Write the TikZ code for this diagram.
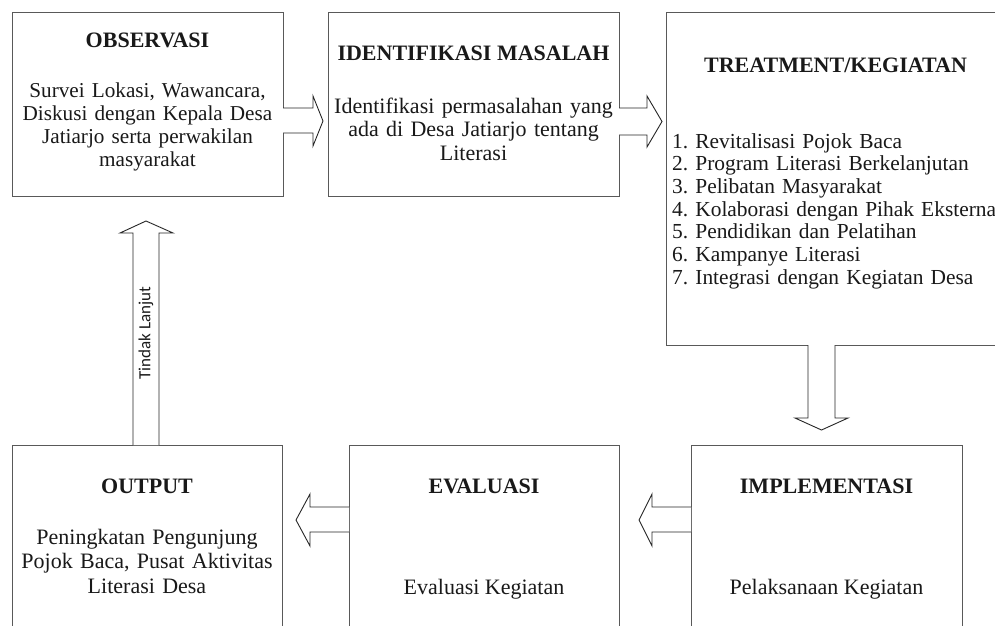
\documentclass[tikz,border=0pt]{standalone}
\usepackage{fontspec}
\setmainfont{Liberation Serif}
\newfontfamily\carlito{Carlito}
\usetikzlibrary{calc}
\frenchspacing
\begin{document}
\frenchspacing
\begin{tikzpicture}[x=1pt,y=-1pt,
  box/.style={draw=black!65, line width=1pt, inner sep=0pt, outer sep=0pt, rectangle},
  blockarrow/.style={draw=black!85, line width=0.9pt, fill=white, line join=miter},
  ttl/.style={font=\fontsize{22}{23.5}\selectfont\bfseries, text=black!90, anchor=base, inner sep=0pt},
  body/.style={font=\fontsize{22}{23.5}\selectfont, text=black!90, anchor=base, inner sep=0pt, align=center},
]
\useasboundingbox (0,0) rectangle (995,625);
\clip (0,0) rectangle (995,625);
\fill[white] (0,0) rectangle (995,625);

% boxes
\node[box, minimum width=271pt, minimum height=184pt] (obs) at (147.5,104) {};
\node[box, minimum width=291pt, minimum height=184pt] (idn) at (473.5,104) {};
\node[box, minimum width=339pt, minimum height=333pt] (trt) at (835.5,178.5) {};
\node[box, minimum width=270pt, minimum height=195pt] (out) at (147,542.5) {};
\node[box, minimum width=270pt, minimum height=195pt] (eva) at (484,542.5) {};
\node[box, minimum width=271pt, minimum height=195pt] (imp) at (826.5,542.5) {};

% texts
\node[ttl] (obst) at (147.5,47) {OBSERVASI};
\node[body, text width=268pt, font=\fontsize{21.2}{23.3}\selectfont] (obsb) at (147.5,97) {Survei Lokasi, Wawancara,\\ Diskusi dengan Kepala Desa\\ Jatiarjo serta perwakilan\\ masyarakat};
\node[ttl] (idnt) at (473.5,60) {IDENTIFIKASI MASALAH};
\node[body, text width=288pt] (idnb) at (473.5,113) {Identifikasi permasalahan yang\\ ada di Desa Jatiarjo tentang\\ Literasi};
\node[ttl] (trtt) at (835.5,72) {TREATMENT/KEGIATAN};
\node[body, align=left, text width=500pt, anchor=base west, font=\fontsize{21.4}{22.7}\selectfont] (trtb) at (672,148) {1. Revitalisasi Pojok Baca\\ 2. Program Literasi Berkelanjutan\\ 3. Pelibatan Masyarakat\\ 4. Kolaborasi dengan Pihak Eksternal\\ 5. Pendidikan dan Pelatihan\\ 6. Kampanye Literasi\\ 7. Integrasi dengan Kegiatan Desa};
\node[ttl] (outt) at (147,493) {OUTPUT};
\node[body, text width=268pt, font=\fontsize{22}{24.5}\selectfont] (outb) at (147,544) {Peningkatan Pengunjung\\ Pojok Baca, Pusat Aktivitas\\ Literasi Desa};
\node[ttl] (evat) at (484,493) {EVALUASI};
\node[body] (evab) at (484,594) {Evaluasi Kegiatan};
\node[ttl] (impt) at (826.5,493) {IMPLEMENTASI};
\node[body] (impb) at (826.5,594) {Pelaksanaan Kegiatan};

% block arrows
\draw[blockarrow] (obs.east |- 0,108) -- (313,108) -- (313,96) -- ($(idn.west |- 0,121)+(-5,0)$) -- (313,146) -- (313,133) -- (obs.east |- 0,133);
\draw[blockarrow] (idn.east |- 0,108) -- (647,108) -- (647,96) -- ($(trt.west |- 0,121.5)+(-4,0)$) -- (647,147) -- (647,135) -- (idn.east |- 0,135);
\draw[blockarrow] (trt.south -| 808,0) -- (808,418) -- (795,418) -- ($(imp.north -| 821.5,0)+(0,-15)$) -- (848,418) -- (835,418) -- (trt.south -| 835,0);
\draw[blockarrow] (imp.west |- 0,507) -- (652,507) -- (652,494) -- ($(eva.east |- 0,520)+(20,0)$) -- (652,546) -- (652,532) -- (imp.west |- 0,532);
\draw[blockarrow] (eva.west |- 0,507) -- (310,507) -- (310,494) -- ($(out.east |- 0,520)+(14,0)$) -- (310,546) -- (310,532) -- (eva.west |- 0,532);
\draw[blockarrow] (out.north -| 133,0) -- (133,233) -- (120,233) -- ($(obs.south -| 146,0)+(0,25)$) -- (173,233) -- (159,233) -- (out.north -| 159,0);
\node[rotate=90, inner sep=0pt, text=black!90, font=\carlito\fontsize{17}{20}\selectfont] (tl) at (146,333) {Tindak Lanjut};
\end{tikzpicture}
\end{document}
